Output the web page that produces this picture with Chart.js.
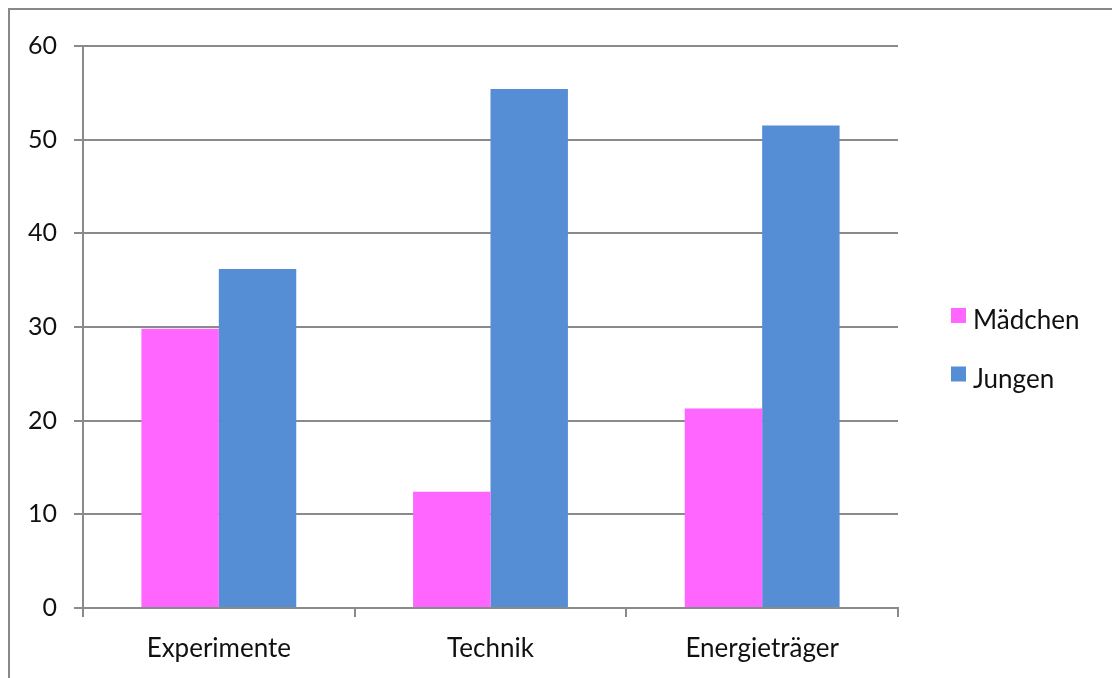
<!DOCTYPE html>
<html>
<head>
<meta charset="utf-8">
<script src="https://cdn.jsdelivr.net/npm/chart.js@4"></script>
<style>
  html, body { margin: 0; padding: 0; background: #fff; }
  #wrap { position: relative; width: 1112px; height: 678px; }
</style>
</head>
<body>
<div id="wrap"><canvas id="c" width="1112" height="678"></canvas></div>
<script>
// Themen-Interesse nach Geschlecht
const categories = ['Experimente', 'Technik', 'Energieträger'];
const seriesNames = ['Mädchen', 'Jungen'];
const maedchen = [29.8, 12.4, 21.3];
const jungen = [36.2, 55.4, 51.5];
const yTicks = [0, 10, 20, 30, 40, 50, 60];

const colors = ['#FF66FF', '#558ED5'];
const FONT = 'Lato';
const gridColor = '#8a8a8a';

// frame line along the top and left edge
const framePlugin = {
  id: 'frame',
  beforeDraw(chart) {
    const ctx = chart.ctx;
    ctx.save();
    ctx.fillStyle = '#fff';
    ctx.fillRect(0, 0, chart.width, chart.height);
    ctx.strokeStyle = '#888';
    ctx.lineWidth = 2;
    ctx.beginPath();
    ctx.moveTo(9, chart.height);
    ctx.lineTo(9, 9);
    ctx.lineTo(chart.width, 9);
    ctx.stroke();
    ctx.restore();
  }
};

// legend drawn to the right of the plot from the dataset labels and colours
const sideLegend = {
  id: 'sideLegend',
  afterDraw(chart) {
    const ctx = chart.ctx;
    ctx.save();
    ctx.font = '26px ' + FONT;
    ctx.textBaseline = 'middle';
    chart.data.datasets.forEach((ds, i) => {
      const top = 308 + i * 58.5;
      ctx.fillStyle = ds.backgroundColor;
      ctx.fillRect(951, top, 15, 15);
      ctx.fillStyle = '#111';
      ctx.fillText(ds.label, 973, top + 13);
    });
    ctx.restore();
  }
};

new Chart(document.getElementById('c'), {
  type: 'bar',
  data: {
    labels: categories,
    datasets: [
      { label: seriesNames[0], data: maedchen, backgroundColor: colors[0], borderWidth: 0 },
      { label: seriesNames[1], data: jungen, backgroundColor: colors[1], borderWidth: 0 }
    ]
  },
  options: {
    responsive: false,
    animation: false,
    devicePixelRatio: 1,
    layout: { padding: { left: 0, top: 46, right: 214, bottom: 0 } },
    plugins: {
      legend: { display: false },
      tooltip: { enabled: false }
    },
    datasets: { bar: { categoryPercentage: 0.57, barPercentage: 1.0 } },
    scales: {
      x: {
        afterFit(s) { s.height = 70; },
        grid: {
          offset: true,
          drawOnChartArea: false,
          drawTicks: true,
          tickLength: 9,
          color: gridColor,
          lineWidth: 2
        },
        border: { display: true, color: gridColor, width: 2 },
        ticks: { color: '#111', font: { family: FONT, size: 26 }, padding: 16 }
      },
      y: {
        min: 0,
        max: 60,
        afterFit(s) { s.width = 83; },
        afterBuildTicks(s) { s.ticks = yTicks.map(v => ({ value: v })); },
        grid: {
          drawOnChartArea: true,
          drawTicks: true,
          tickLength: 9,
          color: gridColor,
          lineWidth: 2
        },
        border: { display: true, color: gridColor, width: 2 },
        ticks: { color: '#111', font: { family: FONT, size: 25 }, padding: 17 }
      }
    }
  },
  plugins: [framePlugin, sideLegend]
});
</script>
</body>
</html>
